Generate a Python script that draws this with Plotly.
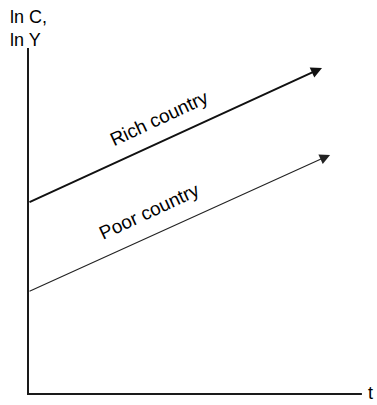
import plotly.graph_objects as go

# Data (arbitrary units: t horizontally, ln C / ln Y vertically)
t_axis_end = 11.13
y_axis_end = 11.53
rich_t = [0.0, 9.8]
rich_y = [6.37, 10.87]
poor_t = [0.0, 10.07]
poor_y = [3.4, 7.97]
labels = ["Rich country", "Poor country"]
label_t = [4.35, 4.03]
label_y = [9.2, 6.1]
y_title = "ln C,<br>ln Y"
x_title = "t"

FONT = "Liberation Sans, Arial, sans-serif"
fig = go.Figure()

# axes as lines
fig.add_trace(go.Scatter(x=[0, 0, t_axis_end], y=[y_axis_end, 0, 0], mode="lines",
                         line=dict(color="#1a1a1a", width=2), hoverinfo="skip", showlegend=False))

ann = []
# arrows
ann.append(dict(x=rich_t[1], y=rich_y[1], ax=rich_t[0], ay=rich_y[0], xref="x", yref="y",
                axref="x", ayref="y", showarrow=True, arrowhead=2, arrowsize=1.1,
                arrowwidth=2, arrowcolor="#111", text=""))
ann.append(dict(x=poor_t[1], y=poor_y[1], ax=poor_t[0], ay=poor_y[0], xref="x", yref="y",
                axref="x", ayref="y", showarrow=True, arrowhead=2, arrowsize=1.9,
                arrowwidth=1.1, arrowcolor="#222", text=""))
for lab, lt, ly in zip(labels, label_t, label_y):
    ann.append(dict(x=lt, y=ly, xref="x", yref="y", text=lab, showarrow=False,
                    textangle=-25, font=dict(family=FONT, size=19, color="#000"),
                    xanchor="center", yanchor="middle"))
ann.append(dict(x=-0.667, y=12.2, xref="x", yref="y", text=y_title, showarrow=False,
                xanchor="left", yanchor="middle", align="left",
                font=dict(family=FONT, size=18, color="#000")))
ann.append(dict(x=11.43, y=0.05, xref="x", yref="y", text=x_title, showarrow=False,
                xanchor="center", yanchor="middle",
                font=dict(family=FONT, size=18, color="#000")))

fig.update_layout(
    width=377, height=405, margin=dict(l=0, r=0, t=0, b=0),
    paper_bgcolor="white", plot_bgcolor="white",
    xaxis=dict(range=[-28/30, 349/30], visible=False, fixedrange=True),
    yaxis=dict(range=[-11/30, 394/30], visible=False, fixedrange=True),
    annotations=ann, showlegend=False,
)
fig.write_html("out.html")
